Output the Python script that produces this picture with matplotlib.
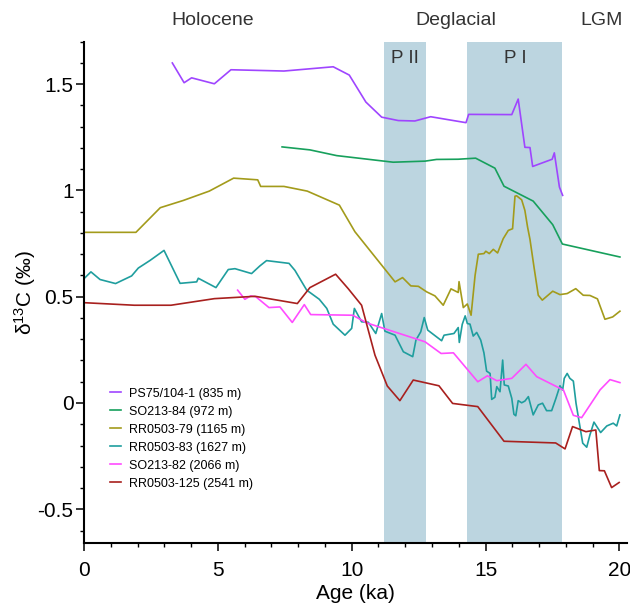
import matplotlib
matplotlib.use("Agg")
import matplotlib.pyplot as plt
from matplotlib.ticker import MultipleLocator, FixedLocator
import matplotlib.transforms as mtransforms

plt.rcParams['font.family'] = ['Liberation Sans', 'DejaVu Sans']
plt.rcParams['mathtext.fontset'] = 'custom'
plt.rcParams['mathtext.rm'] = 'Liberation Sans'
plt.rcParams['mathtext.it'] = 'Liberation Sans:italic'

# ---------------- data ----------------
ps75_age = [3.30, 3.74, 4.02, 4.87, 5.49, 7.47, 9.31, 9.91, 10.53, 11.12, 11.74, 12.36, 12.95,
            14.27, 14.37, 15.98, 16.22, 16.47, 16.66, 16.76, 17.49, 17.57, 17.76, 17.88]
ps75_d13c = [1.60, 1.507, 1.53, 1.502, 1.568, 1.562, 1.582, 1.543, 1.416, 1.345, 1.329, 1.327, 1.347,
             1.319, 1.358, 1.357, 1.43, 1.203, 1.202, 1.113, 1.147, 1.177, 1.016, 0.977]

so84_age = [7.40, 8.44, 9.44, 11.55, 12.74, 13.17, 13.98, 14.63, 15.35, 15.69, 16.78, 17.51, 17.87, 20.02]
so84_d13c = [1.205, 1.191, 1.164, 1.133, 1.138, 1.146, 1.147, 1.152, 1.105, 1.02, 0.95, 0.839, 0.748, 0.687]

rr79_age = [0, 1.94, 2.85, 3.71, 4.68, 5.59, 6.49, 6.60, 7.47, 8.34, 9.54, 10.12, 11.62, 11.90, 12.21,
            12.49, 12.80, 13.11, 13.42, 13.71, 13.98, 14.01, 14.17, 14.32, 14.46, 14.61, 14.73, 14.94,
            15.01, 15.14, 15.29, 15.45, 15.66, 15.85, 16.01, 16.10, 16.16, 16.35, 16.47, 16.57, 16.66,
            16.81, 16.97, 17.12, 17.51, 17.78, 18.05, 18.37, 18.65, 18.90, 19.18, 19.46, 19.75, 20.02]
rr79_d13c = [0.803, 0.803, 0.919, 0.953, 0.997, 1.058, 1.050, 1.019, 1.019, 0.997, 0.931, 0.806, 0.570,
             0.590, 0.551, 0.549, 0.523, 0.504, 0.460, 0.537, 0.520, 0.571, 0.449, 0.466, 0.413, 0.601,
             0.700, 0.703, 0.714, 0.703, 0.723, 0.706, 0.773, 0.812, 0.820, 0.973, 0.975, 0.956, 0.906,
             0.828, 0.77, 0.640, 0.507, 0.484, 0.526, 0.510, 0.515, 0.538, 0.507, 0.506, 0.490, 0.394,
             0.405, 0.432]

rr83_age = [0, 0.26, 0.60, 1.18, 1.78, 2.03, 2.47, 2.99, 3.59, 4.21, 4.27, 4.93, 5.39, 5.64, 6.26, 6.57,
            6.82, 7.66, 7.88, 8.32, 8.79, 9.07, 9.31, 9.75, 10.0, 10.10, 10.37, 10.62, 10.90, 11.12,
            11.24, 11.62, 11.93, 12.28, 12.40, 12.58, 12.71, 12.84, 13.36, 13.45, 13.82, 13.98, 14.02,
            14.13, 14.24, 14.32, 14.42, 14.54, 14.67, 14.82, 14.94, 15.04, 15.17, 15.23, 15.35, 15.42,
            15.54, 15.64, 15.70, 15.85, 15.98, 16.06, 16.13, 16.22, 16.35, 16.47, 16.60, 16.78, 16.97,
            17.13, 17.28, 17.47, 17.63, 17.78, 17.88, 17.94, 18.05, 18.15, 18.28, 18.38, 18.63, 18.78,
            18.90, 19.05, 19.30, 19.53, 19.77, 19.90, 20.02]
rr83_d13c = [0.585, 0.617, 0.581, 0.562, 0.598, 0.635, 0.671, 0.718, 0.563, 0.570, 0.587, 0.543, 0.628,
             0.632, 0.609, 0.645, 0.670, 0.657, 0.624, 0.531, 0.488, 0.445, 0.371, 0.319, 0.351, 0.445,
             0.382, 0.380, 0.327, 0.421, 0.338, 0.319, 0.241, 0.218, 0.296, 0.335, 0.402, 0.343, 0.293,
             0.319, 0.327, 0.355, 0.285, 0.370, 0.410, 0.374, 0.371, 0.315, 0.332, 0.296, 0.236, 0.150,
             0.139, 0.017, 0.027, 0.077, 0.053, 0.202, 0.085, 0.080, 0.022, -0.053, -0.060, 0.011, 0.001,
             0.009, 0.030, -0.056, -0.009, -0.001, -0.036, -0.036, 0.022, 0.081, 0.061, 0.116, 0.139,
             0.116, 0.103, -0.001, -0.189, -0.208, -0.150, -0.090, -0.139, -0.108, -0.095, -0.108, -0.056]

so82_age = [5.74, 6.01, 6.23, 6.43, 6.91, 7.32, 7.78, 8.23, 8.47, 10.04, 10.56, 12.74, 13.34, 13.80,
            14.71, 15.07, 15.42, 15.98, 16.51, 16.91, 17.91, 18.28, 18.59, 19.28, 19.65, 20.02]
so82_d13c = [0.531, 0.488, 0.504, 0.499, 0.449, 0.452, 0.379, 0.463, 0.416, 0.413, 0.377, 0.288, 0.233,
             0.236, 0.100, 0.128, 0.105, 0.116, 0.182, 0.124, 0.061, -0.058, -0.069, 0.062, 0.110, 0.096]

rr125_age = [0, 1.88, 3.25, 4.87, 6.39, 7.97, 8.44, 9.40, 9.87, 10.37, 10.87, 11.33, 11.80, 12.30, 13.26,
             13.77, 14.71, 15.69, 17.62, 17.97, 18.25, 18.75, 19.12, 19.25, 19.44, 19.71, 19.99]
rr125_d13c = [0.472, 0.460, 0.460, 0.491, 0.502, 0.468, 0.543, 0.606, 0.538, 0.460, 0.225, 0.080, 0.011,
              0.108, 0.081, -0.002, -0.017, -0.180, -0.188, -0.216, -0.111, -0.135, -0.127, -0.318,
              -0.319, -0.398, -0.374]

series_labels = ["PS75/104-1 (835 m)", "SO213-84 (972 m)", "RR0503-79 (1165 m)",
                 "RR0503-83 (1627 m)", "SO213-82 (2066 m)", "RR0503-125 (2541 m)"]
series_colors = ["#9f45ff", "#17a05c", "#a39b1b", "#1f9e9e", "#ff4cff", "#a8201e"]

band_names = ["P II", "P I"]
band_starts = [11.22, 14.32]
band_ends = [12.76, 17.87]

period_names = ["Holocene", "Deglacial", "LGM"]
period_pos = [4.8, 13.9, 19.35]

xticks = [0, 5, 10, 15, 20]
yticks = [-0.5, 0, 0.5, 1, 1.5]
ytick_labels = ["-0.5", "0", "0.5", "1", "1.5"]

# ---------------- figure ----------------
fig = plt.figure(figsize=(6.3, 6.07), dpi=100)
ax = fig.add_axes([0.1333, 0.105, 0.8626, 0.8263])

for s, e, name in zip(band_starts, band_ends, band_names):
    ax.axvspan(s, e, color="#bcd5e0", lw=0, zorder=0)
    ax.text((s + e) / 2, 1.62, name, ha="center", va="center", fontsize=13.5, color="#333333")

xs = [ps75_age, so84_age, rr79_age, rr83_age, so82_age, rr125_age]
ys = [ps75_d13c, so84_d13c, rr79_d13c, rr83_d13c, so82_d13c, rr125_d13c]
for x, y, lab, col in zip(xs, ys, series_labels, series_colors):
    ax.plot(x, y, color=col, lw=1.2, label=lab)

trans = mtransforms.blended_transform_factory(ax.transData, ax.transAxes)
for name, p in zip(period_names, period_pos):
    ax.text(p, 1.043, name, transform=trans, ha="center", va="center",
            fontsize=14, color="#333333", clip_on=False)

ax.set_xlim(0, 20.3)
ax.set_ylim(-0.66, 1.7)
ax.spines["top"].set_visible(False)
ax.spines["right"].set_visible(False)
for sp in ["left", "bottom"]:
    ax.spines[sp].set_linewidth(1.5)

ax.xaxis.set_major_locator(FixedLocator(xticks))
ax.xaxis.set_minor_locator(MultipleLocator(1))
ax.yaxis.set_major_locator(FixedLocator(yticks))
ax.set_yticklabels(ytick_labels)
ax.yaxis.set_minor_locator(MultipleLocator(0.1))
ax.tick_params(axis="both", which="major", length=5.5, width=1.1, labelsize=15, direction="out")
ax.tick_params(axis="both", which="minor", length=3, width=1.0, direction="out")
ax.tick_params(axis="x", which="major", pad=7)
ax.tick_params(axis="y", which="major", pad=2)

ax.set_xlabel("Age (ka)", fontsize=15, labelpad=3)
ax.set_ylabel("δ$^{13}$C (‰)", fontsize=15, labelpad=0)

leg = ax.legend(loc="upper left", bbox_to_anchor=(0.048, 0.310), frameon=False,
                fontsize=9, handlelength=0.85, handletextpad=0.7, labelspacing=0.48,
                borderpad=0, borderaxespad=0)

fig.savefig("out.png", dpi=100)
